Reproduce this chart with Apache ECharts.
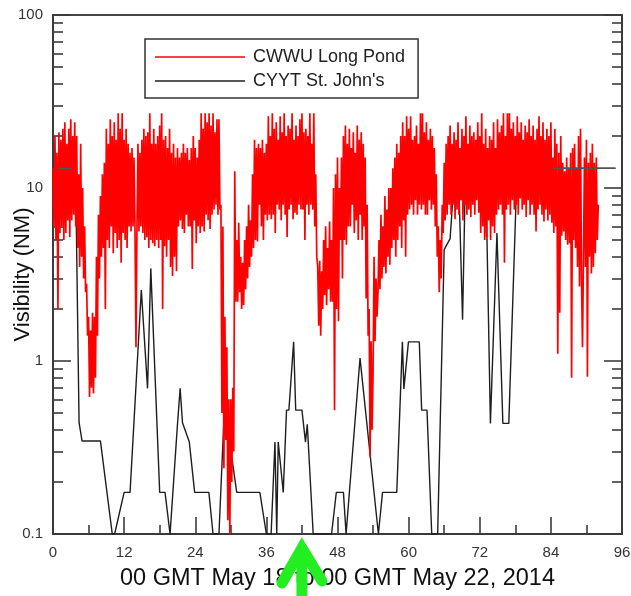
<!DOCTYPE html>
<html>
<head>
<meta charset="utf-8">
<script src="https://cdn.jsdelivr.net/npm/echarts@6/dist/echarts.min.js"></script>
<style>
  html, body { margin: 0; padding: 0; background: #ffffff; }
  #chart { width: 631px; height: 596px; }
</style>
</head>
<body>
<div id="chart"></div>
<script>
// Hours after 00 GMT May 18 2014 on the x axis, visibility in nautical miles on a log y axis.

// CWWU Long Pond: one reading every 10 minutes (six per hour), visibility in NM.
const LONG_POND_STEP_H = 1 / 6;
const longPondVis = [
  13, 6, 20, 5, 16, 2.0,
  21, 5.5, 19, 6, 22, 5,
  24, 5.5, 18, 6.5, 22, 5.2,
  25, 6.5, 20, 7, 24, 6,
  20, 4.5, 12, 3.5, 18, 4,
  10, 3, 6, 2.5, 2.8, 1.4,
  1.8, 0.62, 1.5, 0.7, 1.9, 0.65,
  1.8, 0.8, 4, 1.4, 7, 3,
  9, 4, 12, 4.5, 14, 2.0,
  22, 5, 18, 4.5, 25, 6,
  20, 4.2, 24, 5.5, 19, 4.5,
  27, 5, 22, 3.7, 27, 5.5,
  19, 5, 22, 4.5, 18, 6,
  16, 5.6, 17, 6, 15, 5.8,
  1.2, 6, 18, 5.6, 16, 6,
  19, 5.5, 22, 5, 20, 5.2,
  21, 4.5, 27, 5, 18, 4.8,
  22, 4.6, 18, 5, 20, 4.5,
  23, 5, 27, 2.0, 19, 4.6,
  20, 4, 17, 5, 22, 3.5,
  16, 3.1, 18, 4, 15, 3.3,
  17, 6, 15, 6.5, 16, 5.8,
  18, 5.5, 16, 7, 17, 6,
  14.5, 6, 17, 3.4, 20, 6.5,
  17, 4.8, 15, 6, 19, 5.5,
  27, 6, 22, 5.6, 27, 7,
  24, 6.5, 27, 5.8, 23, 7,
  27, 7.5, 21, 8, 25, 7,
  25, 7.5, 8, 0.5, 6, 0.24,
  1.8, 0.35, 1.2, 0.12, 0.6, 0.1,
  0.6, 0.2, 0.7, 0.3, 12.5, 2.2,
  5, 2.2, 6.3, 2.5, 4, 2.0,
  3.7, 2.1, 5, 2.6, 6, 3.0,
  8, 3.5, 6.5, 4, 12, 4.5,
  19, 5, 17, 4.9, 18, 8,
  17, 6, 19, 5, 16, 7,
  18, 6.5, 26, 7, 20, 6.6,
  27, 7, 22, 5.5, 24, 8,
  19, 7.5, 26, 6.5, 21, 8,
  27, 7, 20, 5.2, 23, 7.5,
  22, 8, 27, 6.6, 19, 7.2,
  23, 7, 20, 8, 25, 7.5,
  27, 7.5, 21, 5, 22, 8,
  20, 7, 27, 8, 18, 7.5,
  27, 6, 12, 4, 3.5, 1.6,
  3.8, 1.4, 3.3, 2.0, 5, 2.4,
  6, 2.1, 4.5, 2.6, 6.4, 2.2,
  5, 2.2, 10, 0.52, 12, 2.0,
  15, 1.7, 10, 5, 15, 3,
  20, 5, 23, 4.7, 18, 6,
  22, 6, 17, 8, 21, 5.5,
  16, 6.5, 23, 5, 19, 7,
  21, 5, 18, 6, 15, 2.3,
  8, 1.4, 2, 0.28, 1.3, 0.4,
  0.85, 4, 1.3, 3, 1.8, 2.5,
  5, 2.6, 7, 3, 6, 3.5,
  9, 3.2, 7.5, 4, 10, 3.6,
  10, 4.5, 13, 5, 15, 4,
  18, 5, 16, 6, 20, 4.5,
  24, 6.5, 20, 4, 26, 7,
  22, 7.5, 26, 8, 19, 7,
  20, 8.5, 23, 7, 18, 8,
  27, 7.5, 27, 8, 21, 7,
  24, 7, 19, 8.5, 22, 7.5,
  20, 8, 17, 6, 12, 4,
  6, 2.5, 5, 3, 8, 5.5,
  14, 6.5, 18, 7, 20, 8,
  23, 7, 18, 8, 21, 6.6,
  19, 7.5, 24, 7, 17, 8.5,
  22, 6.5, 20, 8, 26, 7,
  18, 7.5, 23, 6.8, 20, 8,
  21, 7, 19, 8.5, 24, 7.2,
  20, 5.5, 27, 6, 18, 5,
  22, 5.2, 17, 6.5, 20, 5,
  19, 6, 24, 5.5, 17, 7,
  25, 7.5, 21, 8, 23, 7,
  27, 3.7, 20, 7.5, 27, 8,
  27, 7, 22, 8.5, 24, 7.5,
  20, 8, 26, 7, 21, 8.7,
  24, 7.5, 19, 8, 23, 6.8,
  21, 8.5, 25, 7, 20, 8,
  23, 7, 19, 5.6, 22, 7.5,
  26, 8, 20, 7, 24, 6.4,
  19, 7.5, 22, 6.5, 20, 7,
  24, 6.3, 15, 5.5, 22, 6,
  18, 1.1, 16, 1.9, 20, 5.3,
  14, 5.6, 12.5, 5, 15, 4.7,
  13, 4.8, 16, 0.8, 17, 5,
  18, 4.5, 13, 3.5, 20, 2.7,
  22, 3, 1.2, 4, 15, 3.5,
  19, 0.81, 14, 4, 16, 3.2,
  18, 3.5, 14, 4.2, 15, 5,
  8
];

// CYYT St. John's: hourly and special observations (hour, visibility NM).
const stJohnsHours = [
  0, 3.8, 4.4, 4.9, 8.0, 10.0, 10.4, 12.0, 13.0, 14.9,
  15.95, 16.5, 18.0, 18.9, 19.75, 21.0, 21.45, 21.85, 23.0, 23.9,
  26.3, 27.0, 28.0, 28.8, 29.7, 31.0, 34.9, 36.0, 36.8, 37.45,
  37.75, 38.0, 38.85, 39.4, 39.8, 40.6, 40.95, 42.0, 42.6, 42.9,
  43.9, 47.0, 47.8, 49.0, 49.45, 51.8, 54.9, 55.6, 58.0, 58.95,
  59.2, 59.97, 61.8, 62.2, 63.1, 63.9, 64.9, 66.0, 67.0, 67.8,
  68.4, 69.1, 69.6, 73.0, 73.8, 74.9, 75.9, 76.9, 78.3, 94.9
];
const stJohnsVis = [
  13, 13, 0.44, 0.345, 0.345, 0.1, 0.1, 0.174, 0.174, 2.57,
  0.695, 3.43, 0.174, 0.174, 0.1, 0.43, 0.695, 0.44, 0.34, 0.174,
  0.174, 0.1, 0.1, 0.43, 0.36, 0.174, 0.174, 0.1, 0.1, 0.34,
  0.1, 0.34, 0.174, 0.52, 0.52, 1.29, 0.52, 0.52, 0.34, 0.43,
  0.1, 0.1, 0.174, 0.174, 0.1, 1.04, 0.1, 0.174, 0.174, 1.29,
  0.69, 1.29, 1.29, 0.52, 0.52, 0.1, 0.1, 4.4, 5.1, 13,
  13, 1.73, 13, 13, 0.436, 5.5, 0.436, 0.436, 13, 13
];
// Stretches of the St. John's ceiling reading that sit above the Long Pond trace.
const stJohnsCeilingSpans = [[0.85, 3.1], [84.4, 94.9]];
const STJOHNS_CEILING_NM = 13;

// Axis tick values
const xTickStep = 12;
const yMajorTicks = [0.1, 1, 10, 100];
const yMinorTicks = [0.2, 0.3, 0.4, 0.5, 0.6, 0.7, 0.8, 0.9,
                     2, 3, 4, 5, 6, 7, 8, 9,
                     20, 30, 40, 50, 60, 70, 80, 90];

// Hour marked by the green arrow under the time axis
const ARROW_HOUR = 42;

const FONT = '"Liberation Sans", Arial, Helvetica, sans-serif';
const AXIS_COLOR = '#3a3a3a';
const STJOHNS_COLOR = '#1e1e1e';

const longPondData = longPondVis.map((v, i) => [i * LONG_POND_STEP_H, v]);
const stJohnsData = stJohnsHours.map((h, i) => [h, stJohnsVis[i]]);
const stJohnsCeilingData = [];
stJohnsCeilingSpans.forEach((span, i) => {
  if (i > 0) stJohnsCeilingData.push('-');
  stJohnsCeilingData.push([span[0], STJOHNS_CEILING_NM], [span[1], STJOHNS_CEILING_NM]);
});

const chart = echarts.init(document.getElementById('chart'), null, { renderer: 'canvas' });

function logAxis(position, ticks, tickLen, withLabels, withLine) {
  return {
    type: 'log',
    logBase: 10,
    min: 0.1,
    max: 100,
    position: position,
    axisLine: { show: withLine, onZero: false, lineStyle: { color: AXIS_COLOR, width: 2 } },
    axisTick: {
      show: true, inside: true, length: tickLen, customValues: ticks,
      lineStyle: { color: AXIS_COLOR, width: 1.6 }
    },
    axisLabel: withLabels ? {
      show: true, customValues: yMajorTicks, fontFamily: FONT, fontSize: 15,
      color: '#333', margin: 10
    } : { show: false },
    splitLine: { show: false },
    minorTick: { show: false },
    minorSplitLine: { show: false }
  };
}

const yMain = logAxis('left', yMajorTicks, 18, true, true);
yMain.name = 'Visibility (NM)';
yMain.nameLocation = 'middle';
yMain.nameGap = 19;
yMain.nameRotate = 90;
yMain.nameMoveOverlap = false;
yMain.nameTextStyle = { fontFamily: FONT, fontSize: 22, color: '#111' };

const option = {
  animation: false,
  backgroundColor: '#ffffff',
  grid: {
    left: 53, top: 15, right: 9, bottom: 62,
    outerBoundsMode: 'none',
    containLabel: false,
    show: true, borderColor: AXIS_COLOR, borderWidth: 1.5, backgroundColor: 'transparent'
  },
  legend: {
    orient: 'vertical',
    left: 145, top: 39,
    padding: [9, 13, 8, 10],
    icon: 'rect',
    itemWidth: 90, itemHeight: 1.5, itemGap: 6,
    borderColor: '#333', borderWidth: 1.5,
    backgroundColor: '#ffffff',
    textStyle: { fontFamily: FONT, fontSize: 18, color: '#222', padding: [0, 0, 0, 3] },
    data: ['CWWU Long Pond', "CYYT St. John's"]
  },
  xAxis: [
    {
      type: 'value', min: 0, max: 96, interval: xTickStep, position: 'bottom',
      axisLine: { show: true, onZero: false, lineStyle: { color: AXIS_COLOR, width: 2 } },
      axisTick: { show: true, inside: true, length: 17, lineStyle: { color: AXIS_COLOR, width: 1.6 } },
      minorTick: { show: true, splitNumber: 2, length: 9, lineStyle: { color: AXIS_COLOR, width: 1.6 } },
      axisLabel: { fontFamily: FONT, fontSize: 15, color: '#333', margin: 11 },
      splitLine: { show: false },
      name: '00 GMT May 18 to 00 GMT May 22, 2014',
      nameLocation: 'middle', nameGap: 33, nameMoveOverlap: false,
      nameTextStyle: { fontFamily: FONT, fontSize: 23.5, color: '#111' }
    },
    {
      type: 'value', min: 0, max: 96, position: 'top',
      axisLine: { show: true, onZero: false, lineStyle: { color: AXIS_COLOR, width: 1.5 } },
      axisTick: { show: false }, axisLabel: { show: false }, splitLine: { show: false }
    }
  ],
  yAxis: [
    yMain,
    logAxis('left', yMinorTicks, 10, false, false),
    logAxis('right', yMajorTicks, 18, false, true),
    logAxis('right', yMinorTicks, 10, false, false)
  ],
  series: [
    {
      name: 'CWWU Long Pond',
      type: 'line',
      data: longPondData,
      xAxisIndex: 0, yAxisIndex: 0,
      symbol: 'none',
      sampling: null,
      z: 3,
      lineStyle: { color: '#ff0000', width: 1.7 },
      itemStyle: { color: '#ff0000' }
    },
    {
      name: "CYYT St. John's",
      type: 'line',
      data: stJohnsData,
      xAxisIndex: 0, yAxisIndex: 0,
      symbol: 'none',
      z: 2,
      lineStyle: { color: STJOHNS_COLOR, width: 1.4 },
      itemStyle: { color: STJOHNS_COLOR }
    },
    {
      name: "CYYT St. John's",
      type: 'line',
      data: stJohnsCeilingData,
      xAxisIndex: 0, yAxisIndex: 0,
      symbol: 'none',
      connectNulls: false,
      z: 4,
      lineStyle: { color: '#555555', width: 1.2 },
      itemStyle: { color: STJOHNS_COLOR }
    }
  ]
};

chart.setOption(option);

// Green arrow pointing up at the marked hour on the time axis
const tip = chart.convertToPixel({ xAxisIndex: 0, yAxisIndex: 0 }, [ARROW_HOUR, 0.1]);
chart.setOption({
  graphic: [
    {
      type: 'polyline', z: 100,
      shape: { points: [[tip[0], tip[1] + 16], [tip[0], 605]] },
      style: { stroke: '#22ee22', lineWidth: 11, fill: null }
    },
    {
      type: 'polyline', z: 100,
      shape: { points: [[tip[0] - 20, tip[1] + 49], [tip[0], tip[1] + 14], [tip[0] + 20, tip[1] + 47]] },
      style: { stroke: '#22ee22', lineWidth: 11, fill: null, lineJoin: 'miter', lineCap: 'round' }
    }
  ]
});
</script>
</body>
</html>
